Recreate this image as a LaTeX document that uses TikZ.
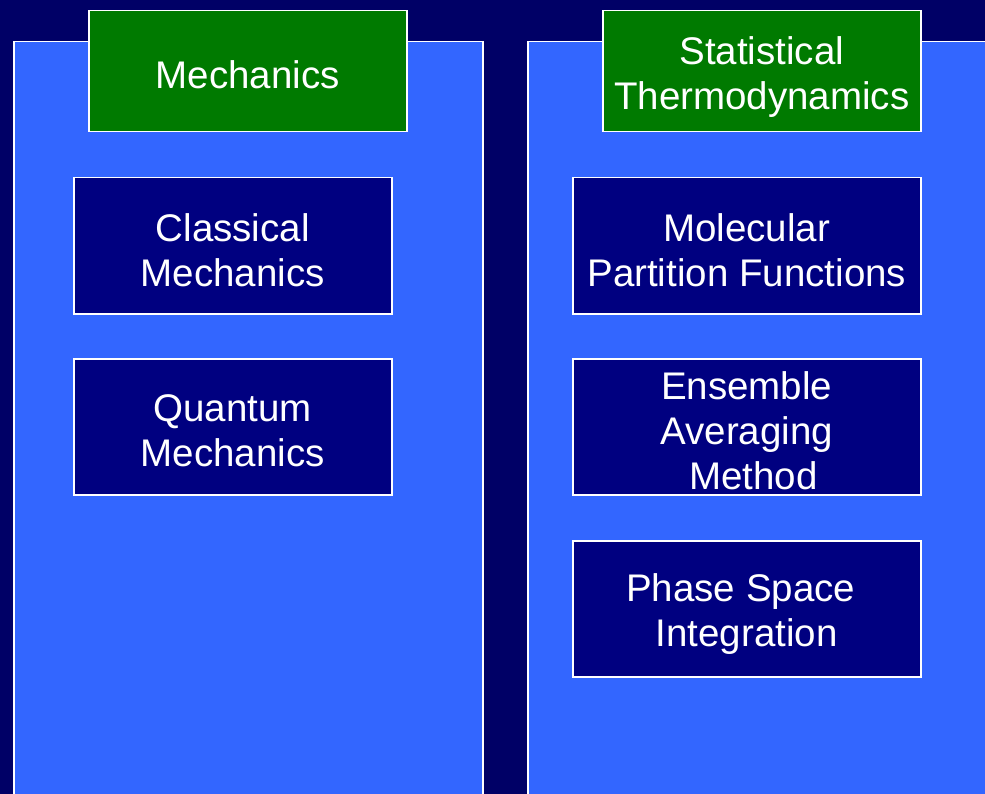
\documentclass[tikz,border=0pt]{standalone}
\usepackage{fontspec}
\setmainfont{Liberation Sans}
\definecolor{bgnavy}{HTML}{000066}
\definecolor{panelblue}{HTML}{3366FF}
\definecolor{headgreen}{HTML}{007A00}
\definecolor{boxnavy}{HTML}{000080}
\begin{document}
\begin{tikzpicture}[x=1pt,y=-1pt,
  panel/.style={draw=white, line width=1.5pt, fill=panelblue, anchor=north west, inner sep=0pt},
  headbox/.style={draw=white, line width=1.5pt, fill=headgreen, anchor=north west, inner sep=0pt},
  itembox/.style={draw=white, line width=1.5pt, fill=boxnavy, anchor=north west, inner sep=0pt},
  txt/.style={text=white, align=center, inner sep=0pt, font=\fontsize{38.5}{45}\selectfont}]
\useasboundingbox (0,0) rectangle (985,794);
\clip (0,0) rectangle (985,794);
\fill[bgnavy] (0,0) rectangle (985,794);
\node[panel, minimum width=469pt, minimum height=800pt] (lpanel) at (13,41) {};
\node[panel, minimum width=480pt, minimum height=800pt] (rpanel) at (527,41) {};
\node[headbox, minimum width=318pt, minimum height=121pt] (mech) at (88,10) {};
\node[headbox, minimum width=318pt, minimum height=121pt] (stat) at (602,10) {};
\node[itembox, minimum width=318pt, minimum height=136pt] (classical) at (73,177) {};
\node[itembox, minimum width=318pt, minimum height=136pt] (quantum) at (73,358) {};
\node[itembox, minimum width=348pt, minimum height=136pt] (molecular) at (572,177) {};
\node[itembox, minimum width=348pt, minimum height=136pt] (ensemble) at (572,358) {};
\node[itembox, minimum width=348pt, minimum height=136pt] (phase) at (572,540) {};
\node[txt] (mecht) at ([yshift=-3pt]mech.center) {Mechanics};
\node[txt] (statt) at ([yshift=-6pt]stat.center) {Statistical\\Thermodynamics};
\node[txt] (classicalt) at ([yshift=-4pt]classical.center) {Classical\\Mechanics};
\node[txt] (quantumt) at ([yshift=-4pt]quantum.center) {Quantum\\Mechanics};
\node[txt] (moleculart) at ([yshift=-4pt]molecular.center) {Molecular\\Partition Functions};
\node[txt] (ensemblet) at ([yshift=-4pt]ensemble.center) {Ensemble\\Averaging\\\hspace{0.35em}Method};
\node[txt] (phaset) at ([xshift=-6pt,yshift=-5pt]phase.center) {Phase Space\hspace{0.3em}\\\hspace{0.3em}Integration};
\end{tikzpicture}
\end{document}
